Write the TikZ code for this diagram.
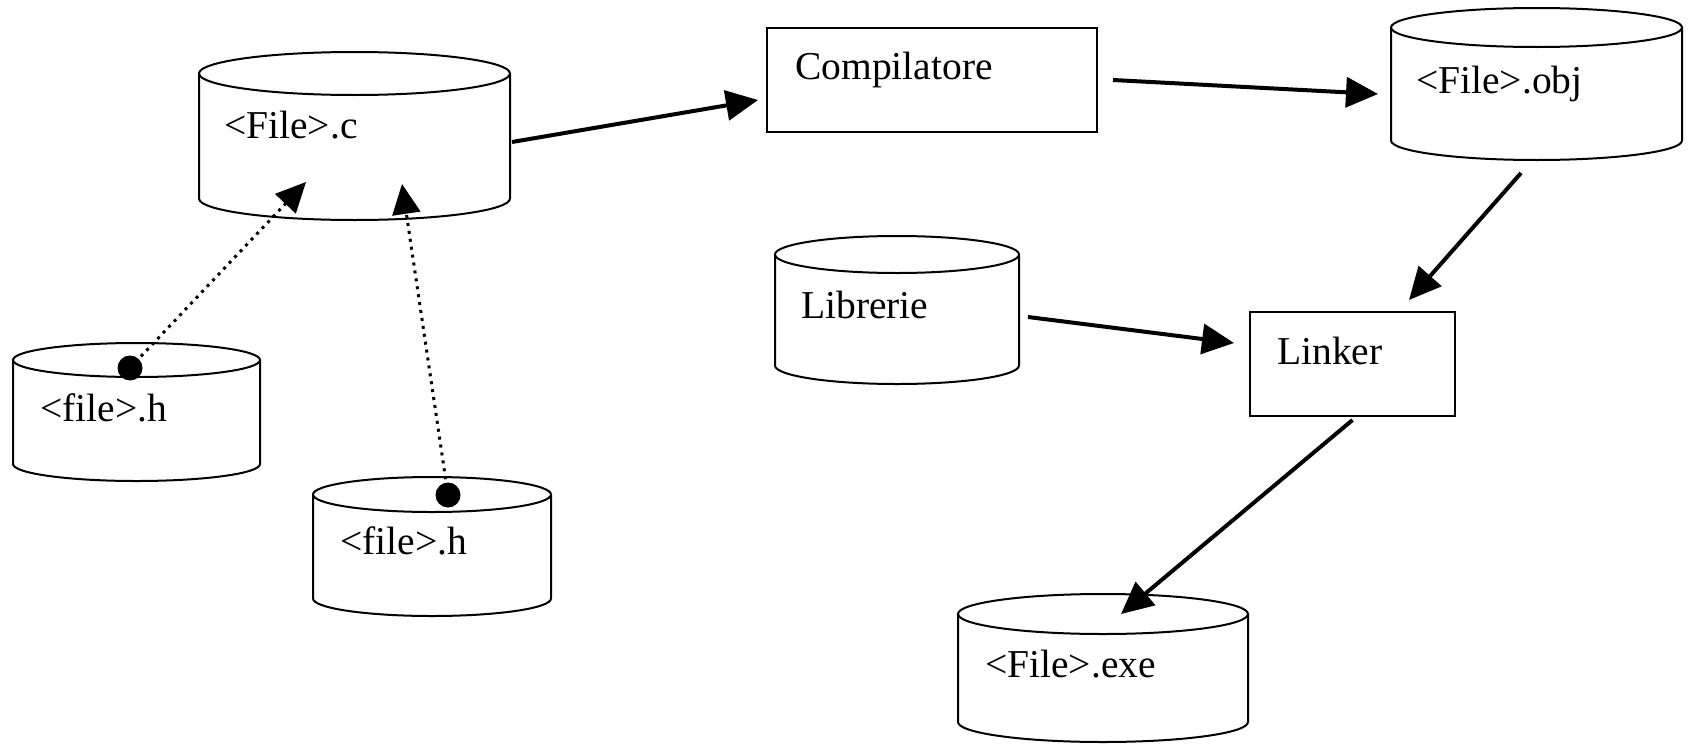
\documentclass[tikz,border=0pt]{standalone}
\usepackage{fontspec}
\setmainfont{Liberation Serif}
\usetikzlibrary{arrows.meta,calc}

\tikzset{
  outline/.style={line width=2pt, black},
  holder/.style={rectangle, draw=none, inner sep=0pt, outer sep=0pt},
  procbox/.style={rectangle, draw, line width=2pt, inner sep=0pt, outer sep=0pt},
  caption/.style={anchor=base west, inner sep=0pt, font=\fontsize{39.5}{47}\selectfont},
  flow/.style={line width=4pt, -{Triangle[length=32pt,width=30pt]}},
  include/.style={line width=3pt, dash pattern=on 3pt off 5pt,
                  -{Triangle[length=30pt,width=28pt]}},
  dotmark/.style={circle, fill, inner sep=0pt, outer sep=0pt, minimum size=25pt},
}

% Draws a storage drum over the bounding box of node #1
% (#2 = horizontal radius, #3 = vertical radius of the end ellipses)
\newcommand\drumshape[3]{%
  \draw[outline] ($(#1.north)+(0,#3)$) ellipse [x radius=#2pt, y radius=#3pt];
  \draw[outline] ($(#1.north west)+(0,#3)$) -- ($(#1.south west)+(0,-#3)$)
    arc [start angle=180, end angle=360, x radius=#2pt, y radius=#3pt]
    -- ($(#1.north east)+(0,#3)$);
}

\begin{document}
\begin{tikzpicture}[x=1pt,y=-1pt]
\useasboundingbox (0,0) rectangle (1689,744);

% storage drums
\node[holder, minimum width=311pt, minimum height=168pt] (c)   at (354.5,136)  {};
\node[holder, minimum width=247pt, minimum height=138pt] (h1)  at (136.5,412)  {};
\node[holder, minimum width=238pt, minimum height=139pt] (h2)  at (432,546.5)  {};
\node[holder, minimum width=291pt, minimum height=152pt] (obj) at (1536.5,84)  {};
\node[holder, minimum width=244pt, minimum height=148pt] (lib) at (897,310)    {};
\node[holder, minimum width=290pt, minimum height=148pt] (exe) at (1103,668)   {};

\drumshape{c}{155.5}{21.5}
\drumshape{h1}{123.5}{17}
\drumshape{h2}{119}{17.5}
\drumshape{obj}{145.5}{19.5}
\drumshape{lib}{122}{18.5}
\drumshape{exe}{145}{20}

% processing steps
\node[procbox, minimum width=330pt, minimum height=104pt] (comp)   at (932,80)    {};
\node[procbox, minimum width=205pt, minimum height=104pt] (linker) at (1352.5,364) {};

% labels
\node[caption] (tc)    at (224,138)  {<File>.c};
\node[caption] (th1)   at (40,421)   {<file>.h};
\node[caption] (th2)   at (340,554)  {<file>.h};
\node[caption] (tcomp) at (795,79)   {Compilatore};
\node[caption] (tobj)  at (1416,93)  {<File>.obj};
\node[caption] (tlib)  at (801,318)  {Librerie};
\node[caption] (tlnk)  at (1277,364) {Linker};
\node[caption] (texe)  at (985,677)  {<File>.exe};

% main build flow
\draw[flow] ($(c.east)+(2,6)$) -- ($(comp.west)+(-9,20)$);
\draw[flow] ($(comp.east)+(16,0)$) -- ($(obj.west)+(-13,10)$);
\draw[flow] ($(obj.south)+(-15.5,13)$) -- ($(linker.north)+(56.5,-12)$);
\draw[flow] ($(lib.east)+(9,7)$) -- ($(linker.west)+(-16,-21)$);
\draw[flow] ($(linker.south)+(0,4)$) -- ($(exe.north)+(18,20)$);

% header inclusion
\node[dotmark] (d1) at ($(h1.north)+(-6.5,25)$) {};
\node[dotmark] (d2) at ($(h2.north)+(16,18)$) {};
\draw[include] (d1.center) -- ($(c.south)+(-48.5,-38)$);
\draw[include] (d2.center) -- ($(c.south)+(47.5,-36)$);
\end{tikzpicture}
\end{document}
